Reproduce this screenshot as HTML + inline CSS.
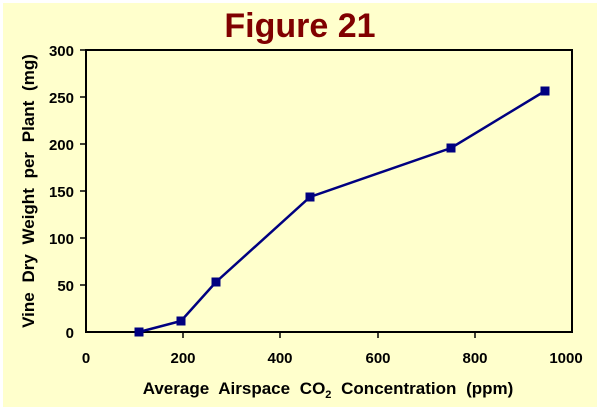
<!DOCTYPE html>
<html><head><style>
body{margin:0;background:#fff}
svg{display:block}
text{font-family:"Liberation Sans",Arial,sans-serif;font-weight:bold}
</style></head><body>
<svg width="600" height="410" viewBox="0 0 600 410">
<rect x="0" y="0" width="600" height="410" fill="#fff"/>
<rect x="3" y="3" width="594" height="404" fill="#FFFFCC"/>
<text x="300" y="37" text-anchor="middle" font-size="34" fill="#800000">Figure 21</text>
<rect x="86" y="50" width="486" height="282" fill="none" stroke="#000" stroke-width="2"/>
<g stroke="#000" stroke-width="1.5">
<line x1="183" y1="332" x2="183" y2="338"/><line x1="280" y1="332" x2="280" y2="338"/>
<line x1="378" y1="332" x2="378" y2="338"/><line x1="475" y1="332" x2="475" y2="338"/>
<line x1="86" y1="285" x2="80" y2="285"/><line x1="86" y1="238" x2="80" y2="238"/>
<line x1="86" y1="191" x2="80" y2="191"/><line x1="86" y1="144" x2="80" y2="144"/>
<line x1="86" y1="97" x2="80" y2="97"/><line x1="86" y1="50" x2="80" y2="50"/>
</g>
<g font-size="15" text-anchor="end" fill="#000">
<text x="74" y="338">0</text><text x="74" y="291">50</text><text x="74" y="244">100</text>
<text x="74" y="197">150</text><text x="74" y="150">200</text><text x="74" y="103">250</text><text x="74" y="56">300</text>
</g>
<g font-size="15" text-anchor="middle" fill="#000">
<text x="86" y="363">0</text><text x="183" y="363">200</text><text x="280" y="363">400</text>
<text x="378" y="363">600</text><text x="475" y="363">800</text><text x="566" y="363">1000</text>
</g>
<text x="328" y="394" text-anchor="middle" font-size="17" fill="#000" word-spacing="5">Average Airspace CO<tspan font-size="11" dy="4">2</tspan><tspan dy="-4"> Concentration (ppm)</tspan></text>
<text transform="translate(34,191) rotate(-90)" text-anchor="middle" font-size="17" fill="#000" word-spacing="5">Vine Dry Weight per Plant (mg)</text>
<polyline fill="none" stroke="#000080" stroke-width="2.5" points="139,332 181,321 216,282 310,197 451,148 545,91"/>
<g fill="#000080">
<rect x="134.5" y="327.5" width="9" height="9"/><rect x="176.5" y="316.5" width="9" height="9"/>
<rect x="211.5" y="277.5" width="9" height="9"/><rect x="305.5" y="192.5" width="9" height="9"/>
<rect x="446.5" y="143.5" width="9" height="9"/><rect x="540.5" y="86.5" width="9" height="9"/>
</g>
</svg>
</body></html>
